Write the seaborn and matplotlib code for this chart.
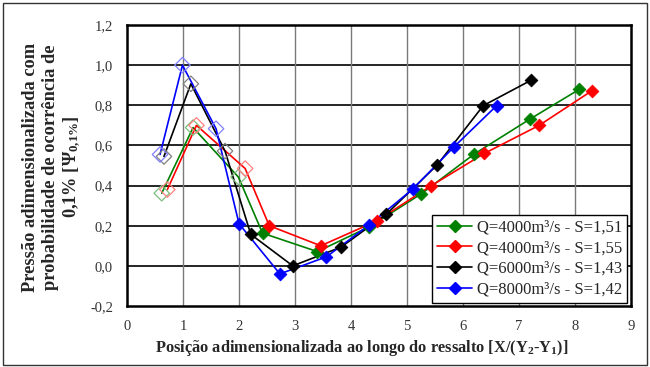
import matplotlib
matplotlib.use("Agg")
import matplotlib.pyplot as plt
from matplotlib.lines import Line2D
from matplotlib.patches import Rectangle
from matplotlib.ticker import FuncFormatter, MultipleLocator
import pandas as pd
import seaborn as sns

# Measured series: dimensionless position along the jump vs. dimensionless pressure (0.1% probability)
labels = ["Q=4000m³/s - S=1,51", "Q=4000m³/s - S=1,55",
          "Q=6000m³/s - S=1,43", "Q=8000m³/s - S=1,42"]
colors = ["#008000", "#FF0000", "#000000", "#0000FF"]
light = ["#7fbf7f", "#ff8080", "#808080", "#8080ff"]

x_s151 = [0.62, 1.18, 1.99, 2.42, 3.40, 4.33, 5.25, 6.20, 7.20, 8.08]
y_s151 = [0.362, 0.689, 0.442, 0.163, 0.071, 0.195, 0.358, 0.557, 0.732, 0.880]

x_s155 = [0.72, 1.24, 2.11, 2.54, 3.46, 4.46, 5.42, 6.38, 7.36, 8.30]
y_s155 = [0.380, 0.700, 0.485, 0.200, 0.100, 0.224, 0.397, 0.560, 0.700, 0.872]

x_s143 = [0.66, 1.14, 1.75, 2.21, 2.96, 3.82, 4.63, 5.54, 6.36, 7.21]
y_s143 = [0.545, 0.907, 0.572, 0.157, 0.000, 0.093, 0.257, 0.503, 0.798, 0.924]

x_s142 = [0.59, 0.99, 1.59, 2.00, 2.73, 3.56, 4.33, 5.10, 5.84, 6.60]
y_s142 = [0.555, 1.000, 0.683, 0.210, -0.040, 0.045, 0.205, 0.382, 0.593, 0.798]

xs = [x_s151, x_s155, x_s143, x_s142]
ys = [y_s151, y_s155, y_s143, y_s142]
n_open = 3  # first points of each series drawn as open diamonds

x_ticks = list(range(0, 10))
y_ticks = [-0.2, 0.0, 0.2, 0.4, 0.6, 0.8, 1.0, 1.2]

sns.set_theme(style="white")
plt.rcParams["font.family"] = ["Liberation Serif", "DejaVu Serif"]
plt.rcParams["mathtext.fontset"] = "custom"
plt.rcParams["mathtext.rm"] = "Liberation Serif:bold"
plt.rcParams["mathtext.it"] = "Liberation Serif:bold:italic"
plt.rcParams["mathtext.bf"] = "Liberation Serif:bold"

fig = plt.figure(figsize=(6.5, 3.67), dpi=100)
ax = fig.add_axes([0.1954, 0.1662, 0.7754, 0.7657])

for lab, c, lc, x, y in zip(labels, colors, light, xs, ys):
    df = pd.DataFrame({"x": x, "y": y})
    sns.lineplot(data=df, x="x", y="y", color=c, lw=1.2, sort=False,
                 ax=ax, zorder=3, legend=False)
    sns.scatterplot(data=df.iloc[n_open:], x="x", y="y", marker="D", s=42,
                    color=c, edgecolor=c, linewidth=0.6, ax=ax, zorder=4,
                    legend=False)
    ax.scatter(df["x"].iloc[:n_open], df["y"].iloc[:n_open], marker="D", s=62,
               facecolors="none", edgecolors=lc, linewidths=0.9, zorder=4)

ax.set_xlim(0, 9)
ax.set_ylim(-0.2, 1.2)
ax.xaxis.set_major_locator(MultipleLocator(1))
ax.yaxis.set_major_locator(MultipleLocator(0.2))
ax.yaxis.set_major_formatter(FuncFormatter(lambda v, p: f"{v:.1f}".replace(".", ",").replace("-0,0", "0,0")))
ax.xaxis.set_major_formatter(FuncFormatter(lambda v, p: f"{v:.0f}"))

# grid: black horizontal, grey vertical
for yv in y_ticks[1:-1]:
    ax.axhline(yv, color="black", lw=1.2, zorder=1)
for xv in x_ticks[1:-1]:
    ax.axvline(xv, color="#7a7a7a", lw=1.0, zorder=1)

for side in ["left", "right", "top", "bottom"]:
    ax.spines[side].set_color("black")
    ax.spines[side].set_linewidth(1.8)
    ax.spines[side].set_visible(True)

ax.tick_params(axis="both", direction="out", length=4, width=1.5, color="black",
               labelsize=10.5, labelcolor="#333333", pad=6)
ax.set_xlabel("")
ax.set_ylabel("")

fig.text(0.557, 0.04,
         r"Posição adimensionalizada ao longo do ressalto [X/(Y$_2$-Y$_1$)]",
         ha="center", va="baseline", fontsize=11.8, fontweight="bold")
fig.text(0.081, 0.545,
         "Pressão adimensionalizada com\nprobabilidade de ocorrência de\n"
         r"0,1% [$\Psi_{0{,}1\%}$]",
         ha="center", va="center", rotation=90, fontsize=13.2,
         fontweight="bold", linespacing=1.22, multialignment="center")

handles = [Line2D([0], [0], color=c, lw=1.2, marker="D", markersize=6,
                  markerfacecolor=c, markeredgecolor=c) for c in colors]
leg = ax.legend(handles, labels, loc="lower right", bbox_to_anchor=(0.993, 0.012),
                frameon=True, fancybox=False, fontsize=12, handlelength=2.1,
                handletextpad=0.3, borderpad=0.3, labelspacing=0.28,
                borderaxespad=0.0)
leg.get_frame().set_edgecolor("black")
leg.get_frame().set_linewidth(1.0)
leg.get_frame().set_alpha(1.0)
leg.set_zorder(6)

fig.patches.append(Rectangle((0.004, 0.006), 0.991, 0.986, transform=fig.transFigure,
                             fill=False, edgecolor="#333333", lw=1.0))

fig.savefig("out.png", dpi=100)
